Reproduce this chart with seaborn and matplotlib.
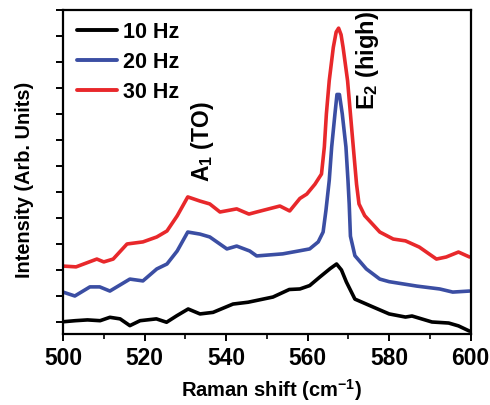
import pandas as pd
import seaborn as sns
import matplotlib.pyplot as plt
from matplotlib.ticker import MultipleLocator

# Raman spectra (arbitrary intensity units)
x_10hz = [500.1, 503, 506, 509.1, 511.5, 514, 516.4, 518.9, 522.9, 525.4, 527.9, 530.7,
          533.6, 536.8, 541.7, 545.4, 551.5, 555.5, 558.1, 560.5, 563, 565.5, 567.1,
          568.3, 569.5, 571.6, 576, 580, 584, 585.6, 590.5, 594.6, 597, 599.7]
y_10hz = [0.01, 0.05, 0.08, 0.05, 0.18, 0.12, -0.14, 0.05, 0.12, -0.01, 0.24, 0.5,
          0.31, 0.37, 0.69, 0.76, 0.96, 1.25, 1.27, 1.4, 1.73, 2.05, 2.23,
          2.0, 1.54, 0.88, 0.58, 0.31, 0.19, 0.23, 0.0, -0.04, -0.15, -0.35]

x_20hz = [500, 502.9, 506.6, 509, 511.5, 516.4, 519.6, 523, 525.5, 528, 530.6, 533.6,
          536, 540.2, 542.6, 545.8, 547.5, 553.9, 558.1, 560.5, 562.6, 563.8, 564.5,
          565.3, 565.9, 566.7, 567.2, 567.8, 568.5, 569.4, 569.9, 570.2, 570.5, 571.6,
          574.4, 577.7, 580, 586.8, 592.4, 595.6, 599.7]
y_20hz = [1.15, 1.0, 1.35, 1.35, 1.19, 1.65, 1.58, 2.04, 2.23, 2.73, 3.46, 3.38,
          3.27, 2.81, 2.92, 2.73, 2.54, 2.62, 2.74, 2.81, 3.08, 3.46, 4.3,
          5.44, 6.73, 8.0, 8.75, 8.75, 8.0, 6.73, 5.44, 4.54, 3.3, 2.55,
          2.04, 1.65, 1.55, 1.38, 1.27, 1.15, 1.19]

x_30hz = [500, 503.2, 508.3, 510, 512.3, 515.7, 519.6, 523, 525.5, 528, 530.6, 533.6,
          536, 538.5, 542.6, 545.6, 547.5, 553.2, 555.6, 558.1, 559.8, 561.8, 563.4,
          564.1, 564.6, 565.3, 566.3, 567.0, 567.6, 568.2, 568.7, 569.8, 570.5, 571.2,
          572.0, 572.6, 574, 577.7, 581, 584, 587.4, 591.6, 594, 597, 599.7]
y_30hz = [2.15, 2.12, 2.42, 2.31, 2.42, 3.0, 3.08, 3.27, 3.5, 4.08, 4.81, 4.65,
          4.54, 4.23, 4.35, 4.15, 4.23, 4.46, 4.27, 4.75, 4.92, 5.3, 5.69,
          6.73, 8.0, 9.28, 10.56, 11.15, 11.3, 11.05, 10.56, 9.28, 8.0, 6.73,
          5.3, 4.54, 4.09, 3.46, 3.19, 3.12, 2.88, 2.42, 2.5, 2.69, 2.5]

series = [
    ("10 Hz", x_10hz, y_10hz, "#000000"),
    ("20 Hz", x_20hz, y_20hz, "#3b4ea3"),
    ("30 Hz", x_30hz, y_30hz, "#e8282b"),
]

sns.set_style("ticks")
plt.rcParams["font.family"] = ["Liberation Sans", "DejaVu Sans"]
plt.rcParams.update({
    "font.weight": "bold",
    "text.color": "black",
    "axes.labelcolor": "black",
    "xtick.color": "black",
    "ytick.color": "black",
    "mathtext.fontset": "custom",
    "mathtext.rm": "Liberation Sans:bold",
    "mathtext.bf": "Liberation Sans:bold",
    "mathtext.it": "Liberation Sans:bold",
    "mathtext.default": "bf",
})

fig = plt.figure(figsize=(4.9, 4.06), dpi=100)
ax = fig.add_axes([0.1286, 0.175, 0.832, 0.798])

for label, xs, ys, color in series:
    df = pd.DataFrame({"shift": xs, "intensity": ys})
    sns.lineplot(data=df, x="shift", y="intensity", ax=ax, color=color,
                 linewidth=2.6, label=label, sort=True)

ax.set_xlim(500, 600)
ax.set_ylim(-0.46, 12)
ax.xaxis.set_major_locator(MultipleLocator(20))
ax.xaxis.set_minor_locator(MultipleLocator(10))
ax.yaxis.set_major_locator(MultipleLocator(1))
ax.set_yticklabels([])

for s in ax.spines.values():
    s.set_linewidth(1.6)
    s.set_color("black")
ax.tick_params(axis="both", which="major", direction="out", length=5, width=1.4,
               labelsize=16.5)
ax.tick_params(axis="x", which="minor", direction="out", length=3.5, width=1.2)
for t in ax.get_xticklabels():
    t.set_fontweight("bold")

ax.set_xlabel("Raman shift (cm$^{-1}$)", fontsize=14.5, fontweight="bold")
ax.xaxis.set_label_coords(0.512, -0.19)
ax.xaxis.label.set_va("baseline")
ax.set_ylabel("Intensity (Arb. Units)", fontsize=14.3, fontweight="bold")
ax.yaxis.set_label_coords(-0.07, 0.48)

ax.text(534.3, 5.42, "A$_1$ (TO)", rotation=90, fontsize=16.5,
        fontweight="bold", ha="center", va="bottom")
ax.text(574.8, 8.19, "E$_2$ (high)", rotation=90, fontsize=17,
        fontweight="bold", ha="center", va="bottom")

leg = ax.legend(loc="upper left", frameon=False, fontsize=15.5, handlelength=1.86,
                handletextpad=0.28, labelspacing=0.42, borderaxespad=0,
                borderpad=0, bbox_to_anchor=(0.034, 0.965))
for t in leg.get_texts():
    t.set_fontweight("bold")
for line in leg.get_lines():
    line.set_linewidth(2.8)

fig.savefig("out.png", dpi=100)
